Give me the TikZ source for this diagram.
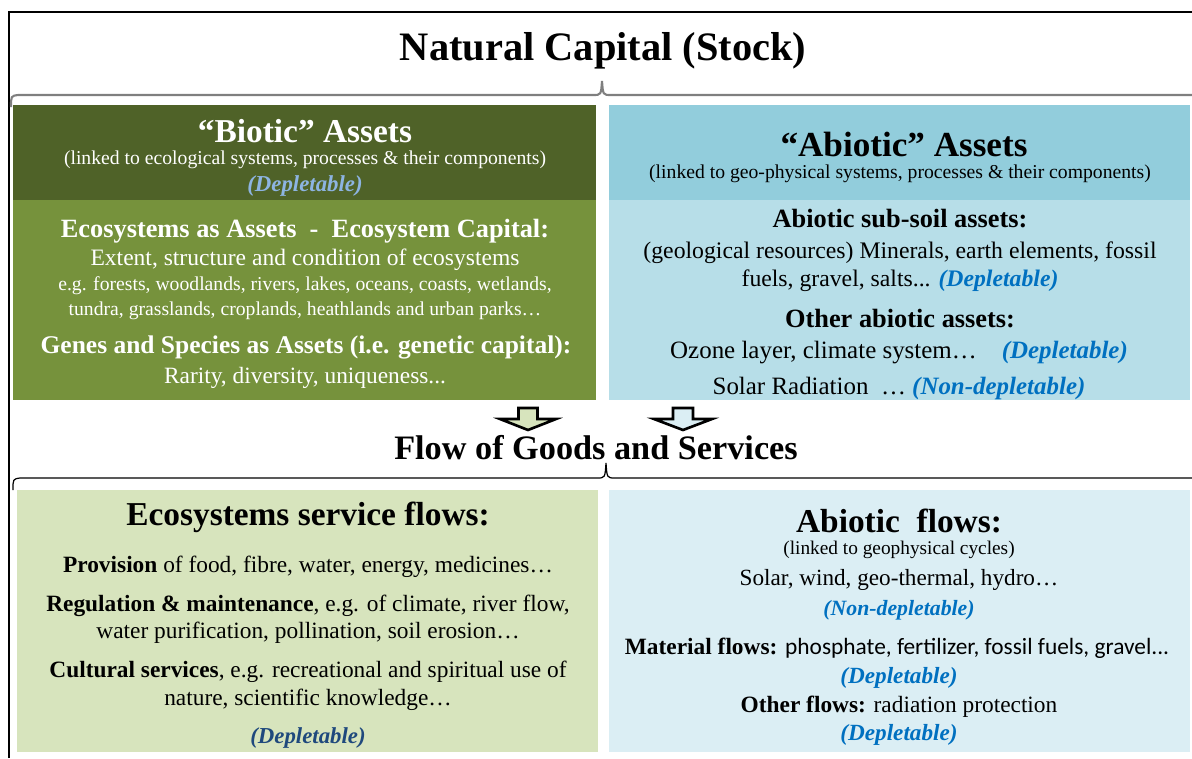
\documentclass[tikz,border=0pt]{standalone}
\usepackage{fontspec}
\setmainfont{Liberation Serif}
\setsansfont{Carlito}

\definecolor{biodark}{HTML}{4F6228}
\definecolor{biomid}{HTML}{76923C}
\definecolor{biolight}{HTML}{D7E4BD}
\definecolor{abiodark}{HTML}{92CDDC}
\definecolor{abiomid}{HTML}{B7DEE8}
\definecolor{abiolight}{HTML}{DBEEF4}
\definecolor{deplblue}{HTML}{0070C0}
\definecolor{depllight}{HTML}{8DB4E2}
\definecolor{depldark}{HTML}{1F497D}
\definecolor{bracegray}{HTML}{7F7F7F}

\newcommand\setfs[1]{\fontsize{#1}{#1}\selectfont}
\newcommand\depltag[2]{{\bfseries\itshape\color{#1}#2}}

\begin{document}
\begin{tikzpicture}[x=0.02cm, y=-0.02cm,
    line/.style={inner sep=0, anchor=center},
    wline/.style={line, text=white},
    flowarrow/.style={draw=black, line width=1.5pt, line join=miter}]
    \useasboundingbox (0,0) rectangle (1192,758);

    % draw frame on top and left
    \draw[line width=0.6pt] (9,758) -- (9,12) -- (1192,12);

    % draw title
    \node[line, font=\setfs{23}\bfseries] (stock) at (603,51) {Natural Capital (Stock)};

    % draw brace under the title
    \draw[bracegray, line width=1.2pt] (11,107) .. controls (11,96) .. (18,95) -- (593,95)
      .. controls (601,95) .. (602,81) .. controls (603,95) .. (611,95) -- (1192,95);

    % draw panels
    \fill[biodark] (13,105) rectangle (596,200);
    \fill[biomid] (13,200) rectangle (596,400);
    \fill[abiodark] (609,105) rectangle (1190,200);
    \fill[abiomid] (609,200) rectangle (1190,400);
    \fill[biolight] (17,490) rectangle (598,752);
    \fill[abiolight] (609,490) rectangle (1190,752);

    % draw biotic assets
    \node[wline, font=\setfs{19}\bfseries] (biotic) at (305,131) {“Biotic” Assets};
    \node[wline, font=\setfs{11.2}] (biosub) at (305,160) {(linked to ecological systems, processes \& their components)};
    \node[line, font=\setfs{13}] (biodepl) at (305,186) {\depltag{depllight}{(Depletable)}};
    \node[wline, font=\setfs{15}\bfseries] (ecocap) at (305,231) {Ecosystems as Assets \ - \ Ecosystem Capital:};
    \node[wline, font=\setfs{13.4}] (extent) at (305,260) {Extent, structure and condition of ecosystems};
    \node[wline, font=\setfs{11.2}] (egone) at (305,286) {e.g. forests, woodlands, rivers, lakes, oceans, coasts, wetlands,};
    \node[wline, font=\setfs{11.2}] (egtwo) at (305,311) {tundra, grasslands, croplands, heathlands and urban parks…};
    \node[wline, font=\setfs{14.5}\bfseries] (genes) at (306,347) {Genes and Species as Assets (i.e. genetic capital):};
    \node[wline, font=\setfs{13.3}] (rarity) at (305,378) {Rarity, diversity, uniqueness...};

    % draw abiotic assets
    \node[line, font=\setfs{20}\bfseries] (abiotic) at (904,144) {“Abiotic” Assets};
    \node[line, font=\setfs{11.2}] (abiosub) at (900,174) {(linked to geo-physical systems, processes \& their components)};
    \node[line, font=\setfs{15}\bfseries] (subsoil) at (900,219) {Abiotic sub-soil assets:};
    \node[line, font=\setfs{13.5}] (geores) at (900,253) {(geological resources) Minerals, earth elements, fossil};
    \node[line, font=\setfs{13.5}] (fuels) at (900,281) {fuels, gravel, salts... \depltag{deplblue}{(Depletable)}};
    \node[line, font=\setfs{15}\bfseries] (otherabio) at (900,319) {Other abiotic assets:};
    \node[line, font=\setfs{14.2}] (ozone) at (899,353) {Ozone layer, climate system…\quad\depltag{deplblue}{(Depletable)}};
    \node[line, font=\setfs{14.2}] (solrad) at (899,388) {Solar Radiation \ … \depltag{deplblue}{(Non-depletable)}};

    % draw block arrows
    \coordinate (arrbio) at (528,408);
    \coordinate (arrabio) at (683,408);
    \draw[flowarrow, fill=biolight] (arrbio) ++(-9.5,0) -- ++(0,11) -- ++(-18.5,0) -- ++(28,11)
      -- ++(28,-11) -- ++(-18.5,0) -- ++(0,-11) -- cycle;
    \draw[flowarrow, fill=abiolight] (arrabio) ++(-10,0) -- ++(0,11) -- ++(-19,0) -- ++(29,11)
      -- ++(29,-11) -- ++(-19,0) -- ++(0,-11) -- cycle;

    % draw flow title and brace
    \node[line, font=\setfs{19.5}\bfseries] (flows) at (596,448) {Flow of Goods and Services};
    \draw[line width=0.7pt] (13,490) .. controls (13,479) .. (20,478) -- (597,478)
      .. controls (605,478) .. (606,463) .. controls (607,478) .. (615,478) -- (1192,478);

    % draw ecosystem service flows
    \node[line, font=\setfs{19}\bfseries] (esflows) at (308,517) {Ecosystems service flows:};
    \node[line, font=\setfs{13.3}] (prov) at (308,567) {\textbf{Provision} of food, fibre, water, energy, medicines…};
    \node[line, font=\setfs{13.3}] (regul) at (308,606) {\textbf{Regulation \& maintenance}, e.g. of climate, river flow,};
    \node[line, font=\setfs{13.3}] (purif) at (308,633) {water purification, pollination, soil erosion…};
    \node[line, font=\setfs{13.3}] (cult) at (308,672) {\textbf{Cultural services}, e.g. recreational and spiritual use of};
    \node[line, font=\setfs{13.3}] (nature) at (308,700) {nature, scientific knowledge…};
    \node[line, font=\setfs{13}] (esdepl) at (308,738) {\depltag{depldark}{(Depletable)}};

    % draw abiotic flows
    \node[line, font=\setfs{19}\bfseries] (abflows) at (899,521) {Abiotic \ flows:};
    \node[line, font=\setfs{11}] (geocyc) at (899,550) {(linked to geophysical cycles)};
    \node[line, font=\setfs{13.2}] (solar) at (899,580) {Solar, wind, geo-thermal, hydro…};
    \node[line, font=\setfs{12.4}] (nondepl) at (899,610) {\depltag{deplblue}{(Non-depletable)}};
    \node[line, font=\setfs{13.3}] (matflows) at (897,648) {\textbf{Material flows:} {\sffamily phosphate, fertilizer, fossil fuels, gravel...}};
    \node[line, font=\setfs{13.2}] (matdepl) at (899,678) {\depltag{deplblue}{(Depletable)}};
    \node[line, font=\setfs{13.3}] (otherfl) at (899,707) {\textbf{Other flows:} radiation protection};
    \node[line, font=\setfs{13.2}] (othdepl) at (899,735) {\depltag{deplblue}{(Depletable)}};
\end{tikzpicture}
\end{document}
